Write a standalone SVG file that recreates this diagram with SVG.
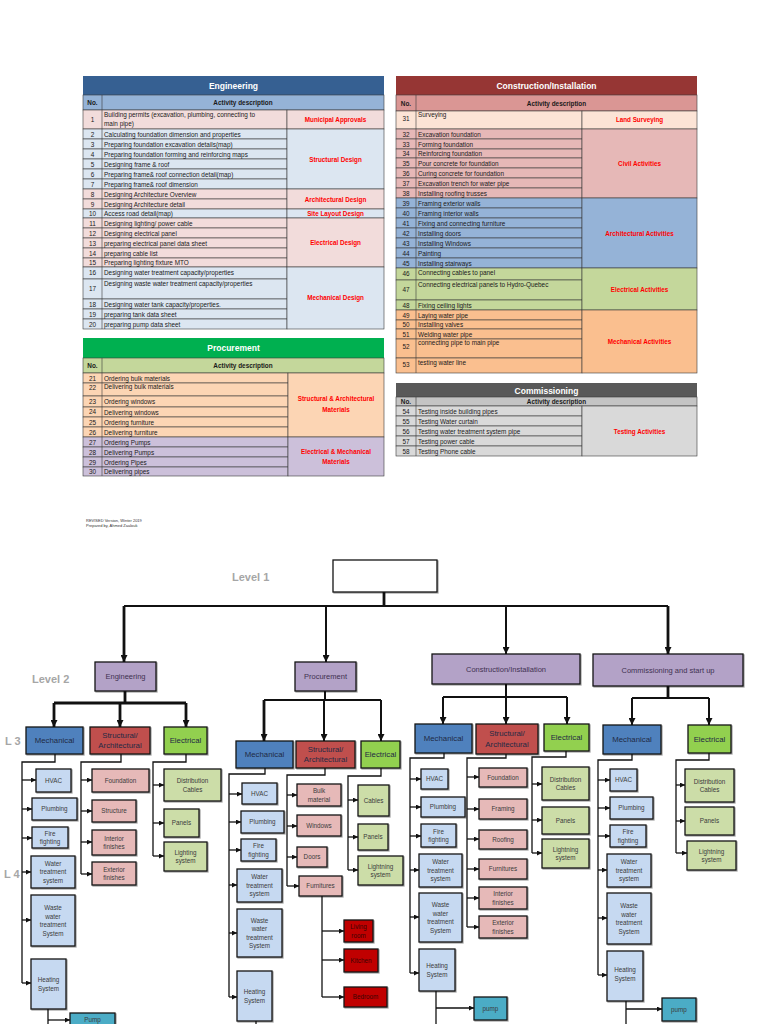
<svg xmlns="http://www.w3.org/2000/svg" width="768" height="1024" viewBox="0 0 768 1024">
<defs>
<style>
text{font-family:"Liberation Sans",Arial,sans-serif}
.r{font-size:6.4px;fill:#1a1a1a}
.n{font-size:6.4px;fill:#1a1a1a;text-anchor:middle}
.c{font-size:6.3px;font-weight:bold;fill:#FF0000;text-anchor:middle}
.ttl{font-size:8.5px;font-weight:bold;fill:#fff;text-anchor:middle}
.hd{font-size:6.4px;font-weight:bold;fill:#1a1a1a;text-anchor:middle}
.g{stroke:#3a3a3a;stroke-width:0.6}
.box{stroke:#151515;stroke-width:1.3;filter:url(#sh)}
.pu{fill:#B3A2C7}.bl{fill:#4F81BD}.rd{fill:#C0504D}.gn{fill:#92D050}
.lb{fill:#C6D9F1}.pk{fill:#E6B9B8}.lg{fill:#CCDDA8}.dr{fill:#C00000}.tl{fill:#4BACC6}
.wt{font-size:6.3px;text-anchor:middle;fill:#3b3b3b}
.wd{font-size:6.3px;text-anchor:middle;fill:#3a0505}
.w3{font-size:7.8px;text-anchor:middle;fill:#1F2A44}
.w2{font-size:7.5px;text-anchor:middle;fill:#3F3151}
.lv{font-size:11px;font-weight:bold;fill:#A6A6A6}
.k{fill:none;stroke:#111;stroke-width:1.3}
.ka{fill:none;stroke:#111;stroke-width:1.3;marker-end:url(#as)}
.k2{fill:none;stroke:#111;stroke-width:2}
.k2a{fill:none;stroke:#111;stroke-width:2;marker-end:url(#al)}
.k3{fill:none;stroke:#111;stroke-width:2.8}
.k3a{fill:none;stroke:#111;stroke-width:2.8;marker-end:url(#al)}
</style>
<marker id="as" viewBox="0 0 10 10" refX="10" refY="5" markerWidth="5" markerHeight="5" markerUnits="userSpaceOnUse" orient="auto"><path d="M0,0 L10,5 L0,10 z" fill="#111"/></marker>
<marker id="al" viewBox="0 0 10 10" refX="10" refY="5" markerWidth="7" markerHeight="7" markerUnits="userSpaceOnUse" orient="auto"><path d="M0,0 L10,5 L0,10 z" fill="#111"/></marker>
<filter id="sh" x="-10%" y="-10%" width="130%" height="130%"><feDropShadow dx="1" dy="1" stdDeviation="0.7" flood-opacity="0.35"/></filter>
</defs>
<rect width="768" height="1024" fill="#fff"/>

<!-- ENGINEERING TABLE -->
<g id="tbl-engineering">
<rect x="83" y="76" width="301" height="19" fill="#366092"/>
<text class="ttl" x="233.5" y="88.5">Engineering</text>
<rect class="g" x="83" y="95" width="301" height="15" fill="#95B3D7"/>
<text class="hd" x="92.5" y="105">No.</text><text class="hd" x="243" y="105">Activity description</text>
<g class="g">
<rect x="83" y="110" width="204" height="19" fill="#F2DCDB"/>
<rect x="83" y="129" width="204" height="10" fill="#DCE6F1"/><rect x="83" y="139" width="204" height="10" fill="#DCE6F1"/>
<rect x="83" y="149" width="204" height="10" fill="#DCE6F1"/><rect x="83" y="159" width="204" height="10" fill="#DCE6F1"/>
<rect x="83" y="169" width="204" height="10" fill="#DCE6F1"/><rect x="83" y="179" width="204" height="10" fill="#DCE6F1"/>
<rect x="83" y="189" width="204" height="10" fill="#F2DCDB"/><rect x="83" y="199" width="204" height="10" fill="#F2DCDB"/>
<rect x="83" y="209" width="204" height="9" fill="#DCE6F1"/>
<rect x="83" y="218" width="204" height="10" fill="#F2DCDB"/><rect x="83" y="228" width="204" height="10" fill="#F2DCDB"/>
<rect x="83" y="238" width="204" height="10" fill="#F2DCDB"/><rect x="83" y="248" width="204" height="10" fill="#F2DCDB"/>
<rect x="83" y="258" width="204" height="9" fill="#F2DCDB"/>
<rect x="83" y="267" width="204" height="12" fill="#DCE6F1"/><rect x="83" y="279" width="204" height="20" fill="#DCE6F1"/>
<rect x="83" y="299" width="204" height="10" fill="#DCE6F1"/><rect x="83" y="309" width="204" height="10" fill="#DCE6F1"/>
<rect x="83" y="319" width="204" height="10" fill="#DCE6F1"/>
<rect x="287" y="110" width="97" height="19" fill="#F2DCDB"/><rect x="287" y="129" width="97" height="60" fill="#DCE6F1"/>
<rect x="287" y="189" width="97" height="20" fill="#F2DCDB"/><rect x="287" y="209" width="97" height="9" fill="#DCE6F1"/>
<rect x="287" y="218" width="97" height="49" fill="#F2DCDB"/><rect x="287" y="267" width="97" height="62" fill="#DCE6F1"/>
<line x1="102" y1="95" x2="102" y2="329"/>
</g>
<text class="n" x="92.5" y="122">1</text><text class="r" x="104" y="116.5">Building permits (excavation, plumbing, connecting to</text><text class="r" x="104" y="125.5">main pipe)</text>
<text class="n" x="92.5" y="136.5">2</text><text class="r" x="104" y="136.5">Calculating foundation dimension and properties</text>
<text class="n" x="92.5" y="146.5">3</text><text class="r" x="104" y="146.5">Preparing foundation excavation details(map)</text>
<text class="n" x="92.5" y="156.5">4</text><text class="r" x="104" y="156.5">Preparing foundation forming and reinforcing maps</text>
<text class="n" x="92.5" y="166.5">5</text><text class="r" x="104" y="166.5">Designing frame &amp; roof</text>
<text class="n" x="92.5" y="176.5">6</text><text class="r" x="104" y="176.5">Preparing frame&amp; roof connection detail(map)</text>
<text class="n" x="92.5" y="186.5">7</text><text class="r" x="104" y="186.5">Preparing frame&amp; roof dimension</text>
<text class="n" x="92.5" y="196.5">8</text><text class="r" x="104" y="196.5">Designing Architecture Overview</text>
<text class="n" x="92.5" y="206.5">9</text><text class="r" x="104" y="206.5">Designing Architecture detail</text>
<text class="n" x="92.5" y="216">10</text><text class="r" x="104" y="216">Access road detail(map)</text>
<text class="n" x="92.5" y="225.5">11</text><text class="r" x="104" y="225.5">Designing lighting/ power cable</text>
<text class="n" x="92.5" y="235.5">12</text><text class="r" x="104" y="235.5">Designing electrical panel</text>
<text class="n" x="92.5" y="245.5">13</text><text class="r" x="104" y="245.5">preparing electrical panel data sheet</text>
<text class="n" x="92.5" y="255.5">14</text><text class="r" x="104" y="255.5">preparing cable list</text>
<text class="n" x="92.5" y="265">15</text><text class="r" x="104" y="265">Preparing lighting fixture MTO</text>
<text class="n" x="92.5" y="275">16</text><text class="r" x="104" y="275">Designing water treatment capacity/properties</text>
<text class="n" x="92.5" y="291">17</text><text class="r" x="104" y="286">Designing waste water treatment capacity/properties</text>
<text class="n" x="92.5" y="306.5">18</text><text class="r" x="104" y="306.5">Designing water tank capacity/properties.</text>
<text class="n" x="92.5" y="316.5">19</text><text class="r" x="104" y="316.5">preparing tank data sheet</text>
<text class="n" x="92.5" y="326.5">20</text><text class="r" x="104" y="326.5">preparing pump data sheet</text>
<text class="c" x="335.5" y="122">Municipal Approvals</text>
<text class="c" x="335.5" y="161.5">Structural Design</text>
<text class="c" x="335.5" y="201.5">Architectural Design</text>
<text class="c" x="335.5" y="216">Site Layout Design</text>
<text class="c" x="335.5" y="245">Electrical Design</text>
<text class="c" x="335.5" y="300">Mechanical Design</text>
</g>

<!-- PROCUREMENT TABLE -->
<g id="tbl-procurement">
<rect x="83" y="338" width="301" height="20" fill="#00B050"/>
<text class="ttl" x="233.5" y="351">Procurement</text>
<rect class="g" x="83" y="358" width="301" height="15" fill="#C4D79B"/>
<text class="hd" x="92.5" y="368">No.</text><text class="hd" x="243" y="368">Activity description</text>
<g class="g">
<rect x="83" y="373" width="205" height="10" fill="#FCD5B4"/><rect x="83" y="383" width="205" height="13" fill="#FCD5B4"/>
<rect x="83" y="396" width="205" height="11" fill="#FCD5B4"/><rect x="83" y="407" width="205" height="10" fill="#FCD5B4"/>
<rect x="83" y="417" width="205" height="10" fill="#FCD5B4"/><rect x="83" y="427" width="205" height="10" fill="#FCD5B4"/>
<rect x="83" y="437" width="205" height="10" fill="#CCC0DA"/><rect x="83" y="447" width="205" height="10" fill="#CCC0DA"/>
<rect x="83" y="457" width="205" height="10" fill="#CCC0DA"/><rect x="83" y="467" width="205" height="9" fill="#CCC0DA"/>
<rect x="288" y="373" width="96" height="64" fill="#FCD5B4"/><rect x="288" y="437" width="96" height="39" fill="#CCC0DA"/>
<line x1="102" y1="358" x2="102" y2="476"/>
</g>
<text class="n" x="92.5" y="380.5">21</text><text class="r" x="104" y="380.5">Ordering bulk materials</text>
<text class="n" x="92.5" y="389.5">22</text><text class="r" x="104" y="389">Delivering bulk materials</text>
<text class="n" x="92.5" y="403.5">23</text><text class="r" x="104" y="403.5">Ordering windows</text>
<text class="n" x="92.5" y="414">24</text><text class="r" x="104" y="414.5">Delivering windows</text>
<text class="n" x="92.5" y="424.5">25</text><text class="r" x="104" y="424.5">Ordering furniture</text>
<text class="n" x="92.5" y="434.5">26</text><text class="r" x="104" y="434.5">Delivering furniture</text>
<text class="n" x="92.5" y="444.5">27</text><text class="r" x="104" y="444.5">Ordering Pumps</text>
<text class="n" x="92.5" y="454.5">28</text><text class="r" x="104" y="454.5">Delivering Pumps</text>
<text class="n" x="92.5" y="464.5">29</text><text class="r" x="104" y="464.5">Ordering Pipes</text>
<text class="n" x="92.5" y="474">30</text><text class="r" x="104" y="474">Delivering pipes</text>
<text class="c" x="336" y="401">Structural &amp; Architectural</text>
<text class="c" x="336" y="411.5">Materials</text>
<text class="c" x="336" y="453.5">Electrical &amp; Mechanical</text>
<text class="c" x="336" y="464">Materials</text>
</g>

<!-- CONSTRUCTION TABLE -->
<g id="tbl-construction">
<rect x="396" y="76" width="301" height="19" fill="#963634"/>
<text class="ttl" x="546.5" y="88.5">Construction/Installation</text>
<rect class="g" x="396" y="95" width="301" height="16" fill="#DA9694"/>
<text class="hd" x="406" y="105.5">No.</text><text class="hd" x="556.5" y="105.5">Activity description</text>
<g class="g">
<rect x="396" y="111" width="186" height="18" fill="#FCE4D6"/>
<rect x="396" y="129" width="186" height="10" fill="#E6B8B7"/><rect x="396" y="139" width="186" height="10" fill="#E6B8B7"/>
<rect x="396" y="149" width="186" height="9" fill="#E6B8B7"/><rect x="396" y="158" width="186" height="10" fill="#E6B8B7"/>
<rect x="396" y="168" width="186" height="10" fill="#E6B8B7"/><rect x="396" y="178" width="186" height="10" fill="#E6B8B7"/>
<rect x="396" y="188" width="186" height="10" fill="#E6B8B7"/>
<rect x="396" y="198" width="186" height="10" fill="#95B3D7"/><rect x="396" y="208" width="186" height="10" fill="#95B3D7"/>
<rect x="396" y="218" width="186" height="10" fill="#95B3D7"/><rect x="396" y="228" width="186" height="10" fill="#95B3D7"/>
<rect x="396" y="238" width="186" height="10" fill="#95B3D7"/><rect x="396" y="248" width="186" height="10" fill="#95B3D7"/>
<rect x="396" y="258" width="186" height="10" fill="#95B3D7"/>
<rect x="396" y="268" width="186" height="12" fill="#C4D79B"/><rect x="396" y="280" width="186" height="20" fill="#C4D79B"/>
<rect x="396" y="300" width="186" height="10" fill="#C4D79B"/>
<rect x="396" y="310" width="186" height="10" fill="#FABF8F"/><rect x="396" y="320" width="186" height="9" fill="#FABF8F"/>
<rect x="396" y="329" width="186" height="10" fill="#FABF8F"/><rect x="396" y="339" width="186" height="19" fill="#FABF8F"/>
<rect x="396" y="358" width="186" height="15" fill="#FABF8F"/>
<rect x="582" y="111" width="115" height="18" fill="#FCE4D6"/><rect x="582" y="129" width="115" height="69" fill="#E6B8B7"/>
<rect x="582" y="198" width="115" height="70" fill="#95B3D7"/><rect x="582" y="268" width="115" height="42" fill="#C4D79B"/>
<rect x="582" y="310" width="115" height="63" fill="#FABF8F"/>
<line x1="416" y1="95" x2="416" y2="373"/>
</g>
<text class="n" x="406" y="121">31</text><text class="r" x="418" y="117">Surveying</text>
<text class="n" x="406" y="136.5">32</text><text class="r" x="418" y="136.5">Excavation foundation</text>
<text class="n" x="406" y="146.5">33</text><text class="r" x="418" y="146.5">Forming foundation</text>
<text class="n" x="406" y="156">34</text><text class="r" x="418" y="156">Reinforcing foundation</text>
<text class="n" x="406" y="165.5">35</text><text class="r" x="418" y="165.5">Pour concrete for foundation</text>
<text class="n" x="406" y="175.5">36</text><text class="r" x="418" y="175.5">Curing concrete for foundation</text>
<text class="n" x="406" y="185.5">37</text><text class="r" x="418" y="185.5">Excavation trench for water pipe</text>
<text class="n" x="406" y="195.5">38</text><text class="r" x="418" y="195.5">Installing roofing trusses</text>
<text class="n" x="406" y="205.5">39</text><text class="r" x="418" y="205.5">Framing exterior walls</text>
<text class="n" x="406" y="215.5">40</text><text class="r" x="418" y="215.5">Framing interior walls</text>
<text class="n" x="406" y="225.5">41</text><text class="r" x="418" y="225.5">Fixing and connecting furniture</text>
<text class="n" x="406" y="235.5">42</text><text class="r" x="418" y="235.5">Installing doors</text>
<text class="n" x="406" y="245.5">43</text><text class="r" x="418" y="245.5">Installing Windows</text>
<text class="n" x="406" y="255.5">44</text><text class="r" x="418" y="255.5">Painting</text>
<text class="n" x="406" y="265.5">45</text><text class="r" x="418" y="265.5">Installing stairways</text>
<text class="n" x="406" y="276">46</text><text class="r" x="418" y="275">Connecting cables to panel</text>
<text class="n" x="406" y="291.5">47</text><text class="r" x="418" y="286.5">Connecting electrical panels to Hydro-Quebec</text>
<text class="n" x="406" y="307.5">48</text><text class="r" x="418" y="307.5">Fixing ceiling lights</text>
<text class="n" x="406" y="317.5">49</text><text class="r" x="418" y="317.5">Laying water pipe</text>
<text class="n" x="406" y="327">50</text><text class="r" x="418" y="327">Installing valves</text>
<text class="n" x="406" y="336.5">51</text><text class="r" x="418" y="336.5">Welding water pipe</text>
<text class="n" x="406" y="349">52</text><text class="r" x="418" y="345">connecting pipe to main pipe</text>
<text class="n" x="406" y="367">53</text><text class="r" x="418" y="364.5">testing water line</text>
<text class="c" x="639.5" y="122">Land Surveying</text>
<text class="c" x="639.5" y="166">Civil Activities</text>
<text class="c" x="639.5" y="235.5">Architectural Activities</text>
<text class="c" x="639.5" y="291.5">Electrical Activities</text>
<text class="c" x="639.5" y="343.5">Mechanical Activities</text>
</g>

<!-- COMMISSIONING TABLE -->
<g id="tbl-commissioning">
<rect x="396" y="383" width="301" height="14" fill="#595959"/>
<text class="ttl" x="546.5" y="393.5">Commissioning</text>
<rect class="g" x="396" y="397" width="301" height="9" fill="#C4C4C4"/>
<text class="hd" x="406" y="404">No.</text><text class="hd" x="556.5" y="404">Activity description</text>
<g class="g">
<rect x="396" y="406" width="186" height="10" fill="#D9D9D9"/><rect x="396" y="416" width="186" height="10" fill="#D9D9D9"/>
<rect x="396" y="426" width="186" height="10" fill="#D9D9D9"/><rect x="396" y="436" width="186" height="10" fill="#D9D9D9"/>
<rect x="396" y="446" width="186" height="10" fill="#D9D9D9"/>
<rect x="582" y="406" width="115" height="50" fill="#D9D9D9"/>
<line x1="416" y1="397" x2="416" y2="456"/>
</g>
<text class="n" x="406" y="413.5">54</text><text class="r" x="418" y="413.5">Testing inside building pipes</text>
<text class="n" x="406" y="423.5">55</text><text class="r" x="418" y="423.5">Testing Water curtain</text>
<text class="n" x="406" y="433.5">56</text><text class="r" x="418" y="433.5">Testing water treatment system pipe</text>
<text class="n" x="406" y="443.5">57</text><text class="r" x="418" y="443.5">Testing power cable</text>
<text class="n" x="406" y="453.5">58</text><text class="r" x="418" y="453.5">Testing Phone cable</text>
<text class="c" x="639.5" y="433.5">Testing Activities</text>
</g>

<g id="note">
<text x="86" y="522" style="font-size:4px;fill:#333">REVISED Version, Winter 2019</text>
<text x="86" y="526.5" style="font-size:4px;fill:#333">Prepared by, Ahmed Zaalouk</text>
</g>

<g id="level-labels">
<text class="lv" x="232" y="581">Level 1</text>
<text class="lv" x="32" y="683">Level 2</text>
<text class="lv" x="5" y="745">L 3</text>
<text class="lv" x="4" y="878">L 4</text>
</g>

<!-- CONNECTORS -->
<g id="connectors">
<path class="k3" d="M384,592 V606"/>
<path class="k2" d="M124,606 H668"/>
<path class="k3a" d="M124,606 V662"/>
<path class="k2a" d="M326,606 V662"/>
<path class="k2a" d="M506,606 V654"/>
<path class="k3a" d="M668,606 V654"/>
<!-- engineering -->
<path class="k3" d="M125,691 V703 M54,703 H186"/>
<path class="k3a" d="M54,703 V727"/><path class="k3a" d="M120,703 V727"/><path class="k3a" d="M186,703 V727"/>
<path class="k" d="M55,754 V762 H22 V983"/>
<path class="ka" d="M22,780 H36"/><path class="ka" d="M22,809 H32"/><path class="ka" d="M22,838 H32"/>
<path class="ka" d="M22,872 H31"/><path class="ka" d="M22,920 H31"/><path class="ka" d="M22,983 H31"/>
<path class="k" d="M48,1009 V1030"/><path class="ka" d="M48,1020 H70"/>
<path class="k" d="M121,754 V762 H81 V874"/>
<path class="ka" d="M81,780 H92"/><path class="ka" d="M81,811 H92"/><path class="ka" d="M81,842 H92"/><path class="ka" d="M81,874 H92"/>
<path class="k" d="M186,754 V762 H153 V856"/>
<path class="ka" d="M153,785 H164"/><path class="ka" d="M153,823 H164"/><path class="ka" d="M153,856 H164"/>
<!-- procurement -->
<path class="k2" d="M325,691 V700 M264,700 H381"/>
<path class="k3a" d="M264,700 V741"/><path class="k2a" d="M324,700 V741"/><path class="k2a" d="M381,700 V741"/>
<path class="k" d="M265,768 V774 H229 V997"/>
<path class="ka" d="M229,794 H242"/><path class="ka" d="M229,822 H241"/><path class="ka" d="M229,850 H241"/>
<path class="ka" d="M229,885 H237"/><path class="ka" d="M229,933 H237"/><path class="ka" d="M229,997 H237"/>
<path class="k" d="M256,1021 V1030"/>
<path class="k" d="M325,768 V775 H287 V886"/>
<path class="ka" d="M287,795 H297"/><path class="ka" d="M287,826 H297"/><path class="ka" d="M287,857 H297"/><path class="ka" d="M287,886 H299"/>
<path class="k" d="M322,896 V997"/>
<path class="ka" d="M322,931 H344"/><path class="ka" d="M322,960 H344"/><path class="ka" d="M322,997 H344"/>
<path class="k" d="M381,768 V776 H348 V870"/>
<path class="ka" d="M348,800 H358"/><path class="ka" d="M348,837 H358"/><path class="ka" d="M348,870 H358"/>
<!-- construction -->
<path class="k2" d="M506,684 V697 M443,697 H567"/>
<path class="k2a" d="M443,697 V724"/><path class="k2a" d="M506,697 V724"/><path class="k2a" d="M567,697 V724"/>
<path class="k" d="M444,753 V758 H410 V973"/>
<path class="ka" d="M410,779 H421"/><path class="ka" d="M410,807 H421"/><path class="ka" d="M410,836 H421"/>
<path class="ka" d="M410,870 H419"/><path class="ka" d="M410,917 H419"/><path class="ka" d="M410,973 H419"/>
<path class="k" d="M436,991 V1030"/><path class="ka" d="M436,1008 H474"/>
<path class="k" d="M506,754 V758 H467 V927"/>
<path class="ka" d="M467,777 H479"/><path class="ka" d="M467,809 H479"/><path class="ka" d="M467,839 H479"/>
<path class="ka" d="M467,869 H479"/><path class="ka" d="M467,898 H479"/><path class="ka" d="M467,927 H479"/>
<path class="k" d="M566,751 V757 H532 V853"/>
<path class="ka" d="M532,784 H542"/><path class="ka" d="M532,820 H542"/><path class="ka" d="M532,853 H542"/>
<!-- commissioning -->
<path class="k3" d="M668,686 V698"/><path class="k2" d="M632,698 H709"/>
<path class="k2a" d="M632,698 V725"/><path class="k2a" d="M709,698 V725"/>
<path class="k" d="M632,754 V760 H598 V975"/>
<path class="ka" d="M598,780 H610"/><path class="ka" d="M598,808 H610"/><path class="ka" d="M598,836 H610"/>
<path class="ka" d="M598,870 H607"/><path class="ka" d="M598,918 H607"/><path class="ka" d="M598,975 H607"/>
<path class="k" d="M626,1001 V1030"/><path class="ka" d="M626,1009 H662"/>
<path class="k" d="M709,753 V760 H676 V853"/>
<path class="ka" d="M676,785 H685"/><path class="ka" d="M676,821 H685"/><path class="ka" d="M676,853 H687"/>
</g>

<!-- NODES -->
<g id="n-root"><rect class="box" x="333" y="560" width="104" height="32" fill="#fff"/></g>

<g id="n-eng"><rect class="box pu" x="95" y="662" width="61" height="29"/><text class="w2" x="125.5" y="679">Engineering</text></g>
<g id="n-proc"><rect class="box pu" x="295" y="662" width="61" height="29"/><text class="w2" x="325.5" y="679">Procurement</text></g>
<g id="n-const"><rect class="box pu" x="432" y="654" width="148" height="30"/><text class="w2" x="506" y="671.8">Construction/Installation</text></g>
<g id="n-comm"><rect class="box pu" x="593" y="654" width="150" height="32"/><text class="w2" x="668" y="672.8">Commissioning and start up</text></g>

<!-- engineering L3/L4 -->
<g id="n-eng-mech"><rect class="box bl" x="26" y="727" width="57" height="27"/><text class="w3" x="54.5" y="743.3">Mechanical</text></g>
<g id="n-eng-struct"><rect class="box rd" x="90" y="727" width="60" height="27"/><text class="w3" x="120" y="737.5">Structural/</text><text class="w3" x="120" y="747.5">Architectural</text></g>
<g id="n-eng-elec"><rect class="box gn" x="164" y="727" width="43" height="27"/><text class="w3" x="185.5" y="743.3">Electrical</text></g>
<g id="n-eng-hvac"><rect class="box lb" x="36" y="769" width="35" height="23"/><text class="wt" x="53.5" y="782.7">HVAC</text></g>
<g id="n-eng-plumb"><rect class="box lb" x="32" y="798" width="45" height="22"/><text class="wt" x="54.5" y="811.2">Plumbing</text></g>
<g id="n-eng-fire"><rect class="box lb" x="32" y="827" width="36" height="21"/><text class="wt" x="50" y="835.5">Fire</text><text class="wt" x="50" y="844">fighting</text></g>
<g id="n-eng-water"><rect class="box lb" x="31" y="856" width="44" height="32"/><text class="wt" x="53" y="865.7">Water</text><text class="wt" x="53" y="874.2">treatment</text><text class="wt" x="53" y="882.7">system</text></g>
<g id="n-eng-waste"><rect class="box lb" x="31" y="895" width="44" height="51"/><text class="wt" x="53" y="910">Waste</text><text class="wt" x="53" y="918.5">water</text><text class="wt" x="53" y="927">treatment</text><text class="wt" x="53" y="935.5">System</text></g>
<g id="n-eng-heat"><rect class="box lb" x="31" y="959" width="35" height="50"/><text class="wt" x="48.5" y="982">Heating</text><text class="wt" x="48.5" y="990.5">System</text></g>
<g id="n-eng-pump"><rect class="box tl" x="70" y="1013" width="45" height="20"/><text class="wt" x="92.5" y="1021.5">Pump</text></g>
<g id="n-eng-found"><rect class="box pk" x="92" y="769" width="57" height="23"/><text class="wt" x="120.5" y="782.7">Foundation</text></g>
<g id="n-eng-structure"><rect class="box pk" x="92" y="800" width="44" height="22"/><text class="wt" x="114" y="813.2">Structure</text></g>
<g id="n-eng-int"><rect class="box pk" x="92" y="830" width="44" height="25"/><text class="wt" x="114" y="840.5">Interior</text><text class="wt" x="114" y="849">finishes</text></g>
<g id="n-eng-ext"><rect class="box pk" x="92" y="862" width="44" height="23"/><text class="wt" x="114" y="871.5">Exterior</text><text class="wt" x="114" y="880">finishes</text></g>
<g id="n-eng-dist"><rect class="box lg" x="164" y="769" width="57" height="32"/><text class="wt" x="192.5" y="783">Distribution</text><text class="wt" x="192.5" y="791.5">Cables</text></g>
<g id="n-eng-panels"><rect class="box lg" x="164" y="809" width="35" height="28"/><text class="wt" x="181.5" y="825.2">Panels</text></g>
<g id="n-eng-light"><rect class="box lg" x="164" y="842" width="43" height="29"/><text class="wt" x="185.5" y="854.5">Lighting</text><text class="wt" x="185.5" y="863">system</text></g>

<!-- procurement L3/L4 -->
<g id="n-proc-mech"><rect class="box bl" x="236" y="741" width="57" height="27"/><text class="w3" x="264.5" y="757.3">Mechanical</text></g>
<g id="n-proc-struct"><rect class="box rd" x="296" y="741" width="59" height="27"/><text class="w3" x="325.5" y="751.5">Structural/</text><text class="w3" x="325.5" y="761.5">Architectural</text></g>
<g id="n-proc-elec"><rect class="box gn" x="361" y="741" width="39" height="27"/><text class="w3" x="380.5" y="757.3">Electrical</text></g>
<g id="n-proc-hvac"><rect class="box lb" x="242" y="783" width="35" height="21"/><text class="wt" x="259.5" y="795.7">HVAC</text></g>
<g id="n-proc-plumb"><rect class="box lb" x="241" y="811" width="43" height="22"/><text class="wt" x="262.5" y="824.2">Plumbing</text></g>
<g id="n-proc-fire"><rect class="box lb" x="241" y="839" width="35" height="22"/><text class="wt" x="258.5" y="848">Fire</text><text class="wt" x="258.5" y="856.5">fighting</text></g>
<g id="n-proc-water"><rect class="box lb" x="237" y="869" width="45" height="33"/><text class="wt" x="259.5" y="879.2">Water</text><text class="wt" x="259.5" y="887.7">treatment</text><text class="wt" x="259.5" y="896.2">system</text></g>
<g id="n-proc-waste"><rect class="box lb" x="237" y="909" width="45" height="48"/><text class="wt" x="259.5" y="922.5">Waste</text><text class="wt" x="259.5" y="931">water</text><text class="wt" x="259.5" y="939.5">treatment</text><text class="wt" x="259.5" y="948">System</text></g>
<g id="n-proc-heat"><rect class="box lb" x="237" y="971" width="35" height="50"/><text class="wt" x="254.5" y="994">Heating</text><text class="wt" x="254.5" y="1002.5">System</text></g>
<g id="n-proc-bulk"><rect class="box pk" x="297" y="784" width="44" height="22"/><text class="wt" x="319" y="793">Bulk</text><text class="wt" x="319" y="801.5">material</text></g>
<g id="n-proc-win"><rect class="box pk" x="297" y="815" width="44" height="21"/><text class="wt" x="319" y="827.7">Windows</text></g>
<g id="n-proc-doors"><rect class="box pk" x="297" y="847" width="30" height="20"/><text class="wt" x="312" y="859.2">Doors</text></g>
<g id="n-proc-furn"><rect class="box pk" x="299" y="876" width="43" height="20"/><text class="wt" x="320.5" y="888.2">Furnitures</text></g>
<g id="n-proc-living"><rect class="box dr" x="344" y="920" width="29" height="22"/><text class="wd" x="358.5" y="929">Living</text><text class="wd" x="358.5" y="937.5">room</text></g>
<g id="n-proc-kitchen"><rect class="box dr" x="344" y="949" width="34" height="23"/><text class="wd" x="361" y="962.7">Kitchen</text></g>
<g id="n-proc-bed"><rect class="box dr" x="344" y="987" width="43" height="20"/><text class="wd" x="365.5" y="999.2">Bedroom</text></g>
<g id="n-proc-cables"><rect class="box lg" x="358" y="785" width="31" height="31"/><text class="wt" x="373.5" y="802.7">Cables</text></g>
<g id="n-proc-panels"><rect class="box lg" x="358" y="824" width="30" height="26"/><text class="wt" x="373" y="839.2">Panels</text></g>
<g id="n-proc-light"><rect class="box lg" x="358" y="856" width="45" height="29"/><text class="wt" x="380.5" y="868.5">Lightning</text><text class="wt" x="380.5" y="877">system</text></g>

<!-- construction L3/L4 -->
<g id="n-const-mech"><rect class="box bl" x="415" y="724" width="57" height="29"/><text class="w3" x="443.5" y="741.3">Mechanical</text></g>
<g id="n-const-struct"><rect class="box rd" x="476" y="724" width="62" height="30"/><text class="w3" x="507" y="735.5">Structural/</text><text class="w3" x="507" y="746.5">Architectural</text></g>
<g id="n-const-elec"><rect class="box gn" x="544" y="724" width="45" height="27"/><text class="w3" x="566.5" y="740.3">Electrical</text></g>
<g id="n-const-hvac"><rect class="box lb" x="421" y="769" width="27" height="20"/><text class="wt" x="434.5" y="781.2">HVAC</text></g>
<g id="n-const-plumb"><rect class="box lb" x="421" y="797" width="44" height="20"/><text class="wt" x="443" y="809.2">Plumbing</text></g>
<g id="n-const-fire"><rect class="box lb" x="421" y="824" width="35" height="23"/><text class="wt" x="438.5" y="833.5">Fire</text><text class="wt" x="438.5" y="842">fighting</text></g>
<g id="n-const-water"><rect class="box lb" x="419" y="854" width="43" height="33"/><text class="wt" x="440.5" y="864.2">Water</text><text class="wt" x="440.5" y="872.7">treatment</text><text class="wt" x="440.5" y="881.2">system</text></g>
<g id="n-const-waste"><rect class="box lb" x="419" y="893" width="43" height="49"/><text class="wt" x="440.5" y="907">Waste</text><text class="wt" x="440.5" y="915.5">water</text><text class="wt" x="440.5" y="924">treatment</text><text class="wt" x="440.5" y="932.5">System</text></g>
<g id="n-const-heat"><rect class="box lb" x="419" y="949" width="36" height="42"/><text class="wt" x="437" y="968">Heating</text><text class="wt" x="437" y="976.5">System</text></g>
<g id="n-const-pump"><rect class="box tl" x="474" y="997" width="33" height="23"/><text class="wt" x="490.5" y="1010.7">pump</text></g>
<g id="n-const-found"><rect class="box pk" x="479" y="768" width="48" height="19"/><text class="wt" x="503" y="779.7">Foundation</text></g>
<g id="n-const-framing"><rect class="box pk" x="479" y="799" width="48" height="20"/><text class="wt" x="503" y="811.2">Framing</text></g>
<g id="n-const-roof"><rect class="box pk" x="479" y="830" width="48" height="19"/><text class="wt" x="503" y="841.7">Roofing</text></g>
<g id="n-const-furn"><rect class="box pk" x="479" y="859" width="48" height="20"/><text class="wt" x="503" y="871.2">Furnitures</text></g>
<g id="n-const-int"><rect class="box pk" x="479" y="887" width="48" height="22"/><text class="wt" x="503" y="896">Interior</text><text class="wt" x="503" y="904.5">finishes</text></g>
<g id="n-const-ext"><rect class="box pk" x="479" y="916" width="48" height="22"/><text class="wt" x="503" y="925">Exterior</text><text class="wt" x="503" y="933.5">finishes</text></g>
<g id="n-const-dist"><rect class="box lg" x="542" y="767" width="47" height="33"/><text class="wt" x="565.5" y="781.5">Distribution</text><text class="wt" x="565.5" y="790">Cables</text></g>
<g id="n-const-panels"><rect class="box lg" x="542" y="807" width="47" height="27"/><text class="wt" x="565.5" y="822.7">Panels</text></g>
<g id="n-const-light"><rect class="box lg" x="542" y="839" width="47" height="29"/><text class="wt" x="565.5" y="851.5">Lightning</text><text class="wt" x="565.5" y="860">system</text></g>

<!-- commissioning L3/L4 -->
<g id="n-comm-mech"><rect class="box bl" x="603" y="725" width="58" height="29"/><text class="w3" x="632" y="742.3">Mechanical</text></g>
<g id="n-comm-elec"><rect class="box gn" x="688" y="725" width="43" height="28"/><text class="w3" x="709.5" y="741.8">Electrical</text></g>
<g id="n-comm-hvac"><rect class="box lb" x="610" y="769" width="27" height="22"/><text class="wt" x="623.5" y="782.2">HVAC</text></g>
<g id="n-comm-plumb"><rect class="box lb" x="610" y="797" width="43" height="22"/><text class="wt" x="631.5" y="810.2">Plumbing</text></g>
<g id="n-comm-fire"><rect class="box lb" x="610" y="825" width="36" height="22"/><text class="wt" x="628" y="834">Fire</text><text class="wt" x="628" y="842.5">fighting</text></g>
<g id="n-comm-water"><rect class="box lb" x="607" y="854" width="44" height="33"/><text class="wt" x="629" y="864.2">Water</text><text class="wt" x="629" y="872.7">treatment</text><text class="wt" x="629" y="881.2">system</text></g>
<g id="n-comm-waste"><rect class="box lb" x="607" y="893" width="44" height="51"/><text class="wt" x="629" y="908">Waste</text><text class="wt" x="629" y="916.5">water</text><text class="wt" x="629" y="925">treatment</text><text class="wt" x="629" y="933.5">System</text></g>
<g id="n-comm-heat"><rect class="box lb" x="607" y="951" width="36" height="50"/><text class="wt" x="625" y="972">Heating</text><text class="wt" x="625" y="980.5">System</text></g>
<g id="n-comm-pump"><rect class="box tl" x="662" y="998" width="34" height="23"/><text class="wt" x="679" y="1011.7">pump</text></g>
<g id="n-comm-dist"><rect class="box lg" x="685" y="769" width="49" height="33"/><text class="wt" x="709.5" y="783.5">Distribution</text><text class="wt" x="709.5" y="792">Cables</text></g>
<g id="n-comm-panels"><rect class="box lg" x="685" y="807" width="49" height="28"/><text class="wt" x="709.5" y="823.2">Panels</text></g>
<g id="n-comm-light"><rect class="box lg" x="687" y="841" width="49" height="29"/><text class="wt" x="711.5" y="853.5">Lightning</text><text class="wt" x="711.5" y="862">system</text></g>
</svg>
